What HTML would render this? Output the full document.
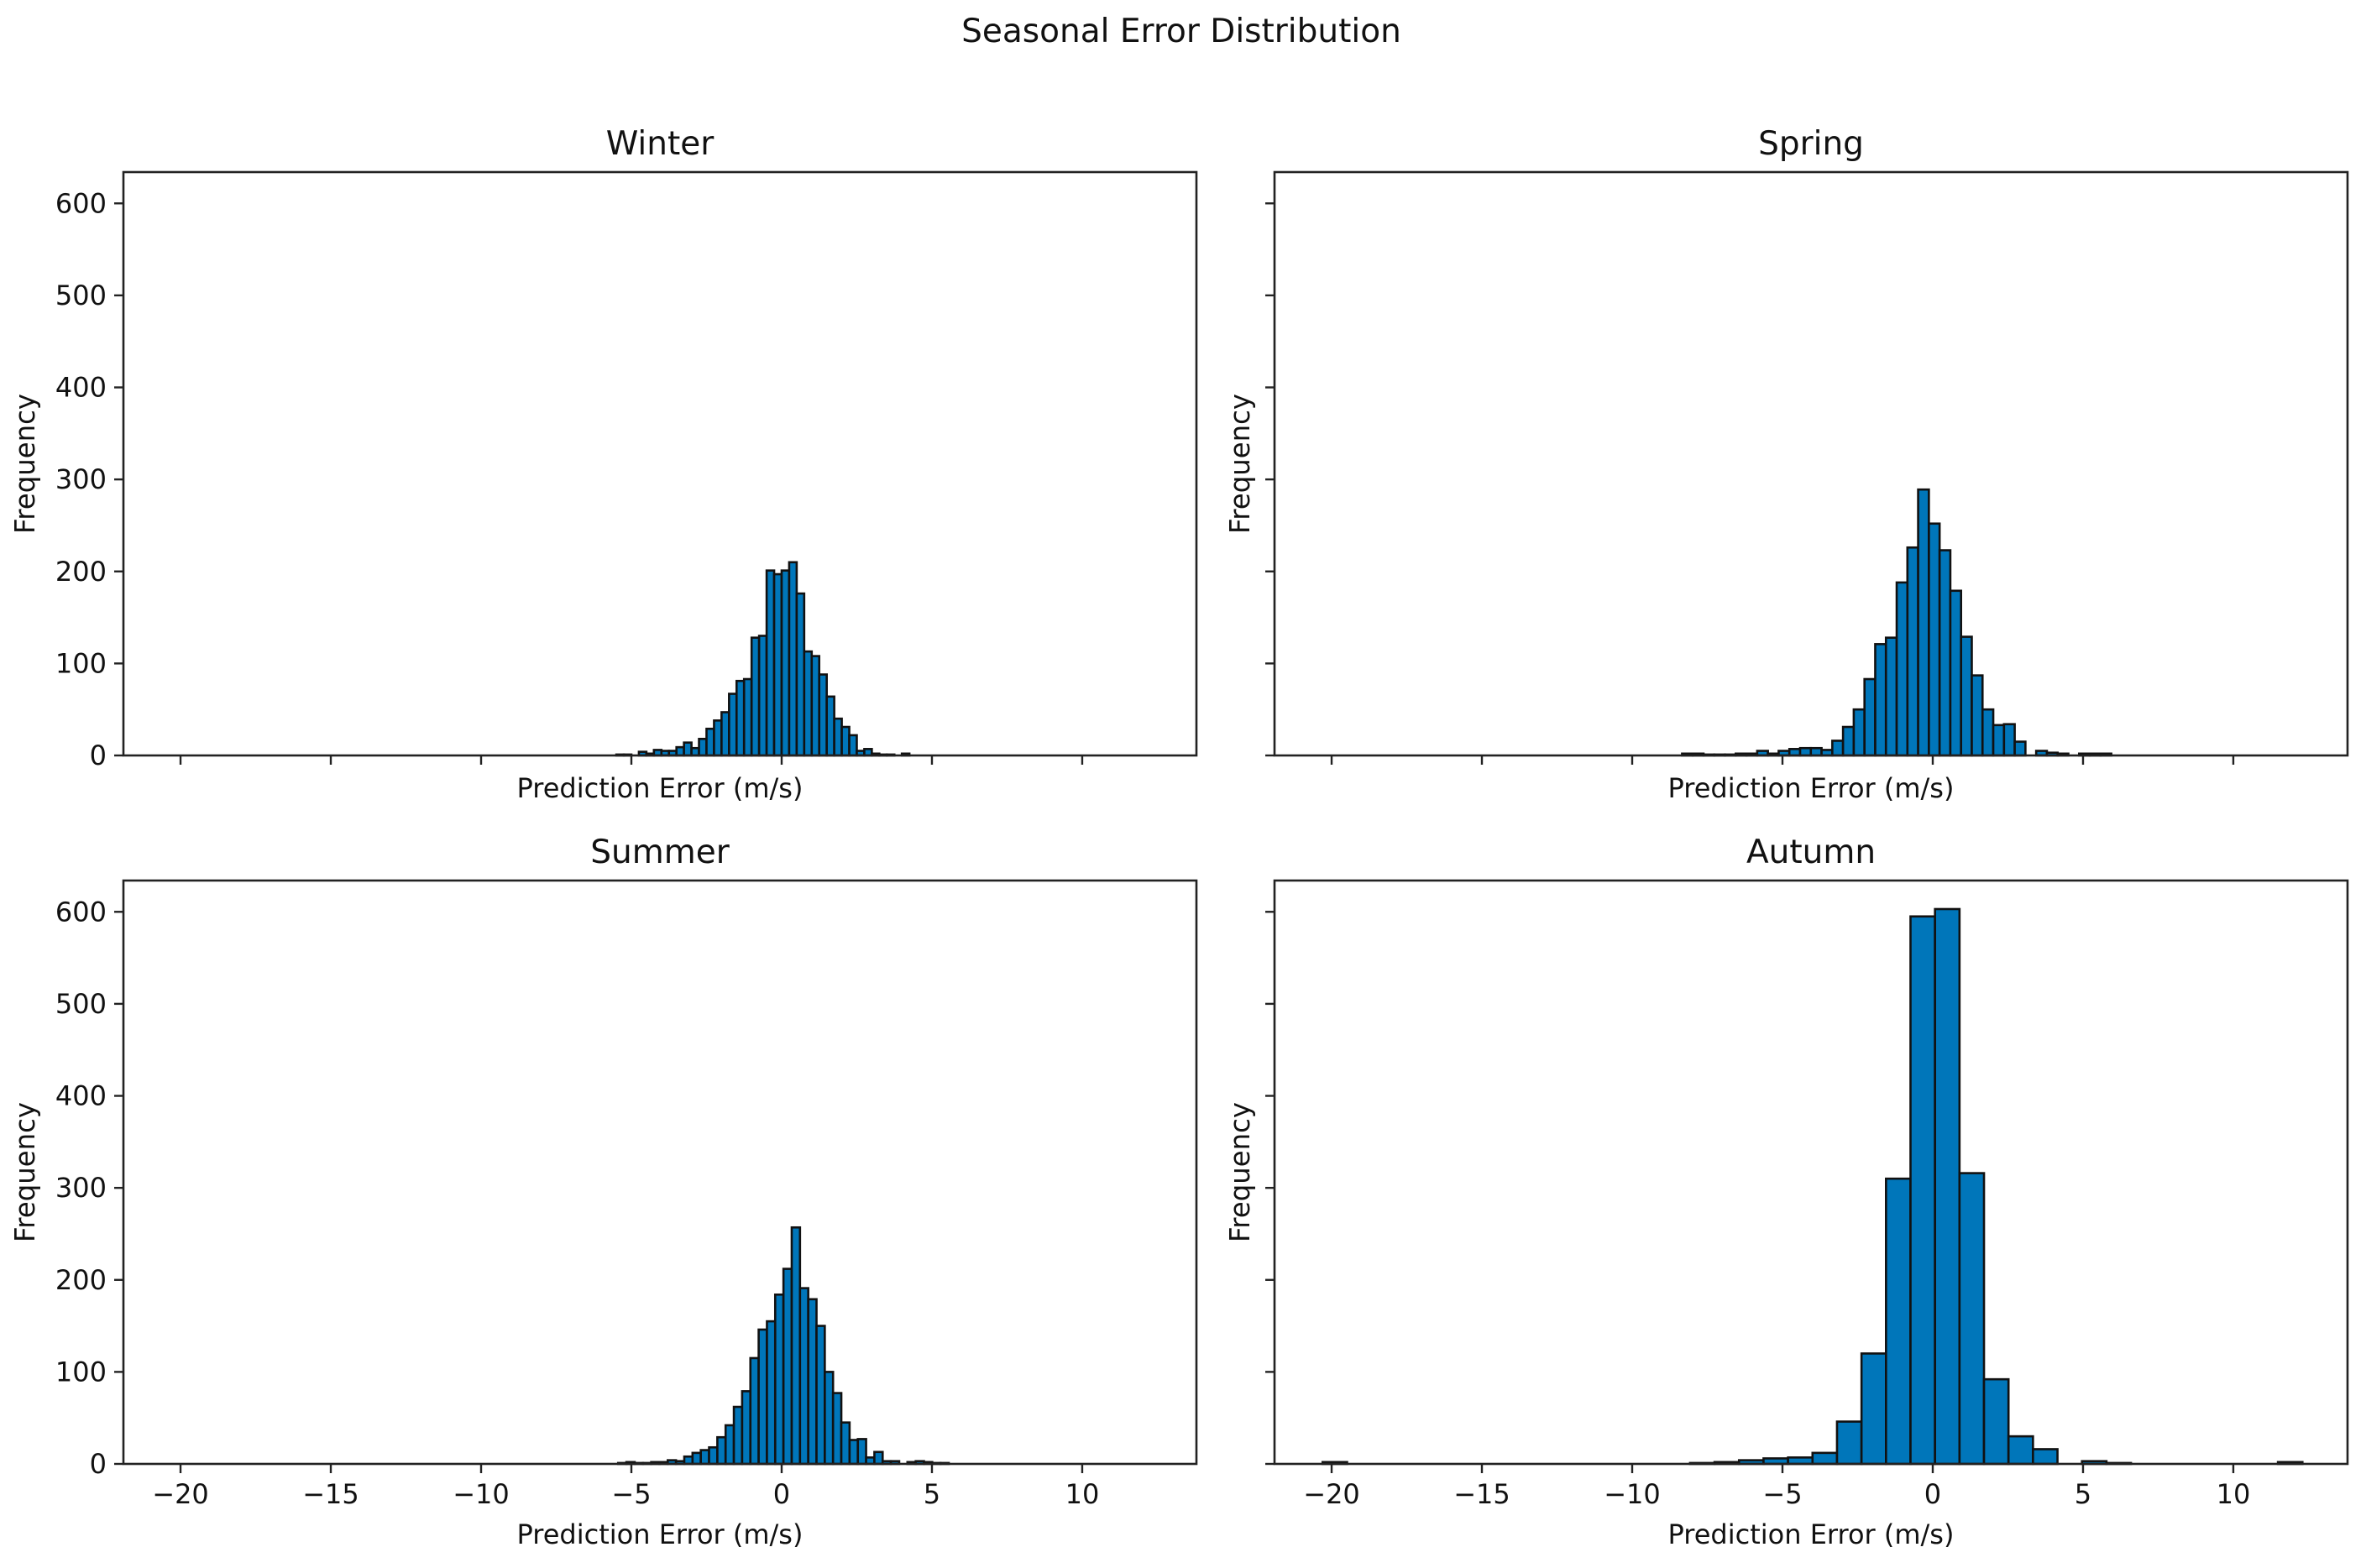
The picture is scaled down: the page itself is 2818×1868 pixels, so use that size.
<!DOCTYPE html>
<html><head><meta charset="utf-8"><style>
html,body{margin:0;padding:0;background:#fff}
svg{display:block}
text{font-family:"DejaVu Sans","Liberation Sans",sans-serif;fill:#111}
</style></head><body>
<svg id="fig" width="2818" height="1868" viewBox="0 0 2818 1868" xmlns="http://www.w3.org/2000/svg">
<text x="1407" y="50" font-size="39" text-anchor="middle">Seasonal Error Distribution</text>
</svg>
<script>
// ---- data ----
const seasonNames = ["Winter","Spring","Summer","Autumn"];
const winterStart = -5.5, winterWidth = 0.25;
const winterCounts = [1,1,0,4,2,6,5,5,9,14,8,18,29,38,47,67,81,83,128,130,201,197,201,210,176,113,108,88,64,40,31,22,5,7,2,1,1,0,2];
const springStart = -8.34, springWidth = 0.357;
const springCounts = [2,2,1,1,1,2,2,5,2,5,7,8,8,6,16,31,50,83,121,128,188,226,289,252,223,179,129,87,50,33,34,15,0,5,3,2,0,2,2,2];
const summerStart = -5.44, summerWidth = 0.275;
const summerCounts = [1,2,1,1,2,2,4,3,8,12,15,18,29,42,62,79,115,146,155,184,212,257,191,179,150,100,77,45,26,27,7,13,3,3,0,2,3,2,1,1];
const autumnStart = -20.3, autumnWidth = 0.815;
const autumnCounts = [2,0,0,0,0,0,0,0,0,0,0,0,0,0,0,1,2,4,6,7,12,46,120,310,595,603,316,92,30,16,0,3,1,0,0,0,0,0,0,2];
const xTicks = [-20,-15,-10,-5,0,5,10];
const xTickLabels = ["\u221220","\u221215","\u221210","\u22125","0","5","10"];
const yTicks = [0,100,200,300,400,500,600];
const yTickLabels = ["0","100","200","300","400","500","600"];
const xDomain = [-21.9, 13.8];
const yDomain = [0, 634];

const NS = "http://www.w3.org/2000/svg";
const svg = document.getElementById("fig");
function mk(tag, attrs){const e=document.createElementNS(NS,tag);for(const k in attrs)e.setAttribute(k,attrs[k]);return e;}

const panels = [
  {name:"winter", title:seasonNames[0], start:winterStart, width:winterWidth, counts:winterCounts, x0:147, y0:205, xLabels:false, yLabels:true},
  {name:"spring", title:seasonNames[1], start:springStart, width:springWidth, counts:springCounts, x0:1518, y0:205, xLabels:false, yLabels:false},
  {name:"summer", title:seasonNames[2], start:summerStart, width:summerWidth, counts:summerCounts, x0:147, y0:1049, xLabels:true, yLabels:true},
  {name:"autumn", title:seasonNames[3], start:autumnStart, width:autumnWidth, counts:autumnCounts, x0:1518, y0:1049, xLabels:true, yLabels:false}
];
const W = 1278, H = 695;

panels.forEach(p=>{
  const g = mk("g",{});
  
  
  svg.appendChild(g);
  const sx = v => p.x0 + (v - xDomain[0]) / (xDomain[1]-xDomain[0]) * W;
  const sy = v => p.y0 + H - (v - yDomain[0]) / (yDomain[1]-yDomain[0]) * H;

  p.counts.forEach((c,i)=>{
    if(c<=0) return;
    const xl = sx(p.start + i*p.width), xr = sx(p.start + (i+1)*p.width);
    const yt = sy(c), yb = sy(0);
    const r = mk("rect",{x:xl, y:yt, width:xr-xl, height:yb-yt, fill:"#0076BA", stroke:"#111", "stroke-width":2.6});
    
    
    g.appendChild(r);
  });

  const fr = mk("rect",{x:p.x0, y:p.y0, width:W, height:H, fill:"none", stroke:"#222", "stroke-width":2.6});
  
  
  g.appendChild(fr);

  xTicks.forEach((t,i)=>{
    const x = sx(t);
    const tk = mk("line",{x1:x, x2:x, y1:p.y0+H, y2:p.y0+H+11, stroke:"#222", "stroke-width":2.4});
    
    
    g.appendChild(tk);
    if(p.xLabels){
      const tx = mk("text",{x:x, y:p.y0+H+47, "font-size":32, "text-anchor":"middle"});
      
      
      tx.textContent = xTickLabels[i];
      g.appendChild(tx);
    }
  });
  yTicks.forEach((t,i)=>{
    const y = sy(t);
    const tk = mk("line",{x1:p.x0-11, x2:p.x0, y1:y, y2:y, stroke:"#222", "stroke-width":2.4});
    
    
    g.appendChild(tk);
    if(p.yLabels){
      const tx = mk("text",{x:p.x0-20, y:y+11, "font-size":32, "text-anchor":"end"});
      
      
      tx.textContent = yTickLabels[i];
      g.appendChild(tx);
    }
  });
  const tt = mk("text",{x:p.x0+W/2, y:p.y0-21, "font-size":39, "text-anchor":"middle"});
  
  
  tt.textContent = p.title;
  g.appendChild(tt);
  const xl = mk("text",{x:p.x0+W/2, y:p.y0+H+(p.xLabels?95:50), "font-size":32, "text-anchor":"middle"});
  
  
  xl.textContent = "Prediction Error (m/s)";
  g.appendChild(xl);
  const cy = p.y0 + H/2;
  const lx = p.x0 - (p.yLabels ? 106 : 30);
  const yl = mk("text",{x:lx, y:cy, "font-size":33, "text-anchor":"middle", textLength:167, lengthAdjust:"spacingAndGlyphs", transform:"rotate(-90 "+lx+" "+cy+")"});
  
  
  yl.textContent = "Frequency";
  g.appendChild(yl);
});
</script>
</body></html>
